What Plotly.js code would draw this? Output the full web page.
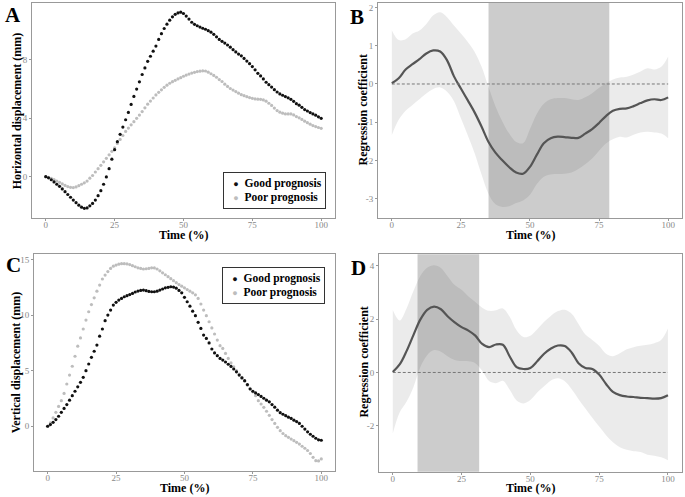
<!DOCTYPE html>
<html>
<head>
<meta charset="utf-8">
<script src="https://cdn.plot.ly/plotly-3.0.1.min.js"></script>
<style>
  html, body { margin: 0; padding: 0; background: #fff; }
  #chart { width: 685px; height: 497px; }
</style>
</head>
<body>
<div id="chart"></div>
<script>
// Displacement curves (A, C) and regression coefficients with 95% band (B, D)

// time axis, % of the movement
const timePct = [0,1,2,3,4,5,6,7,8,9,10,11,12,13,14,15,16,17,18,19,20,21,22,23,24,25,26,27,28,29,30,
  31,32,33,34,35,36,37,38,39,40,41,42,43,44,45,46,47,48,49,50,51,52,53,54,55,56,57,58,59,60,
  61,62,63,64,65,66,67,68,69,70,71,72,73,74,75,76,77,78,79,80,81,82,83,84,85,86,87,88,89,90,
  91,92,93,94,95,96,97,98,99,100];

// A: horizontal displacement (mm)
const horizGood = [0,-0.08,-0.21,-0.36,-0.52,-0.66,-0.84,-1.03,-1.22,-1.41,-1.6,-1.78,-1.95,-2.09,-2.17,-2.14,-2.0,-1.83,-1.6,-1.3,
  -0.96,-0.52,-0.02,0.55,1.2,1.85,2.4,2.9,3.4,3.9,4.4,4.95,5.5,6.0,6.5,7.0,7.45,7.9,8.25,8.6,
  8.95,9.4,9.8,10.15,10.45,10.72,10.95,11.12,11.22,11.27,11.18,11.0,10.8,10.58,10.44,10.34,10.25,10.17,10.1,10.0,
  9.9,9.75,9.58,9.4,9.27,9.15,9.02,8.87,8.7,8.55,8.4,8.28,8.1,7.92,7.74,7.54,7.32,7.08,6.9,6.7,
  6.47,6.3,6.14,5.96,5.8,5.67,5.58,5.49,5.4,5.3,5.16,5.0,4.9,4.75,4.6,4.5,4.39,4.3,4.21,4.1,4.0];
const horizPoor = [0,-0.05,-0.12,-0.2,-0.3,-0.39,-0.5,-0.6,-0.68,-0.73,-0.75,-0.7,-0.62,-0.52,-0.42,-0.3,-0.1,0.08,0.32,0.55,
  0.78,1.02,1.26,1.5,1.74,1.98,2.28,2.55,2.82,3.1,3.33,3.55,3.77,4.0,4.22,4.46,4.72,4.97,5.18,5.39,
  5.6,5.78,5.95,6.12,6.27,6.4,6.51,6.6,6.7,6.78,6.88,6.96,7.03,7.1,7.15,7.2,7.23,7.25,7.24,7.16,
  7.05,6.94,6.81,6.65,6.52,6.34,6.18,6.04,5.93,5.83,5.72,5.62,5.55,5.48,5.42,5.37,5.33,5.31,5.3,5.26,
  5.17,5.03,4.88,4.7,4.53,4.42,4.35,4.3,4.3,4.3,4.23,4.12,4.03,3.92,3.8,3.7,3.6,3.5,3.43,3.37,3.31];

// C: vertical displacement (mm)
const vertGood = [0,0.15,0.35,0.6,0.9,1.25,1.6,1.95,2.35,2.75,3.15,3.55,3.95,4.4,5.0,5.6,6.2,6.75,7.3,8.1,
  8.75,9.5,10.0,10.45,10.9,11.15,11.35,11.5,11.65,11.75,11.85,11.95,12.08,12.16,12.22,12.25,12.2,12.13,12.1,12.1,
  12.15,12.25,12.35,12.45,12.5,12.55,12.52,12.42,12.22,12.0,11.6,11.2,10.8,10.35,9.95,9.35,8.8,8.2,7.9,7.5,
  6.95,6.6,6.35,6.1,5.95,5.78,5.58,5.38,5.15,4.9,4.6,4.35,4.1,3.75,3.35,3.15,3.0,2.85,2.68,2.52,
  2.35,2.2,1.95,1.72,1.45,1.22,1.08,0.95,0.82,0.7,0.55,0.42,0.25,0.0,-0.25,-0.5,-0.72,-0.9,-1.08,-1.22,-1.26];
const vertPoor = [0,0.3,0.75,1.25,1.78,2.3,2.95,3.8,4.6,5.4,6.3,7.2,7.95,8.75,9.55,10.3,10.95,11.55,12.15,12.7,
  13.25,13.6,13.92,14.2,14.4,14.5,14.58,14.63,14.63,14.6,14.55,14.45,14.35,14.25,14.2,14.15,14.17,14.2,14.25,14.24,
  14.15,13.98,13.8,13.63,13.46,13.28,13.1,12.92,12.75,12.6,12.45,12.3,12.15,12.0,11.82,11.5,11.0,10.45,9.95,9.4,
  8.85,8.3,7.75,7.25,7.0,6.55,6.1,5.7,5.35,5.0,4.7,4.4,4.05,3.7,3.4,3.1,2.75,2.3,2.0,1.7,
  1.35,0.98,0.6,0.25,-0.1,-0.4,-0.65,-0.85,-1.0,-1.15,-1.3,-1.45,-1.6,-1.8,-1.98,-2.18,-2.45,-2.8,-3.1,-3.12,-2.94];

// B, D: regression coefficient with lower / upper bound
const coefTime = [0,2.5,5,7.5,10,12.5,15,17.5,20,22.5,25,27.5,30,32.5,35,37.5,40,42.5,45,47.5,50,
  52.5,55,57.5,60,62.5,65,67.5,70,72.5,75,77.5,80,82.5,85,87.5,90,92.5,95,97.5,100];

const coefB = [0.02,0.15,0.38,0.52,0.65,0.8,0.88,0.85,0.62,0.2,-0.12,-0.43,-0.75,-1.12,-1.52,-1.8,-2.0,-2.18,-2.32,-2.35,-2.17,
  -1.85,-1.55,-1.42,-1.38,-1.39,-1.41,-1.41,-1.3,-1.18,-1.02,-0.84,-0.7,-0.65,-0.64,-0.58,-0.5,-0.43,-0.4,-0.42,-0.35];
const upperB = [1.41,1.15,1.17,1.32,1.4,1.57,1.8,1.88,1.75,1.53,1.32,1.1,0.84,0.45,-0.08,-0.58,-0.98,-1.3,-1.52,-1.55,-1.18,
  -0.78,-0.52,-0.4,-0.37,-0.37,-0.4,-0.42,-0.35,-0.24,-0.1,0.02,0.12,0.17,0.19,0.25,0.33,0.41,0.38,0.45,0.72];
const lowerB = [-1.34,-0.94,-0.7,-0.55,-0.4,-0.25,-0.13,-0.09,-0.2,-0.45,-0.9,-1.35,-1.82,-2.38,-2.88,-3.15,-3.22,-3.2,-3.12,-3.05,-2.9,
  -2.62,-2.43,-2.37,-2.36,-2.35,-2.32,-2.23,-2.1,-1.95,-1.75,-1.56,-1.45,-1.38,-1.4,-1.33,-1.27,-1.25,-1.27,-1.3,-1.42];
const sigB = [35, 78.7];

const coefD = [0.02,0.3,0.8,1.4,1.98,2.35,2.47,2.37,2.1,1.88,1.7,1.57,1.38,1.07,0.95,1.05,1.04,0.6,0.2,0.13,0.17,
  0.42,0.7,0.9,1.01,0.99,0.75,0.35,0.17,0.13,-0.08,-0.43,-0.73,-0.85,-0.9,-0.92,-0.95,-0.96,-0.98,-0.96,-0.85];
const upperD = [2.34,1.95,2.4,3.05,3.62,3.93,4.02,3.92,3.6,3.28,3.1,2.85,2.64,2.43,2.31,2.33,2.4,2.09,1.58,1.33,1.38,
  1.62,1.9,2.13,2.3,2.35,2.2,1.82,1.42,1.22,1.0,0.7,0.61,0.72,0.87,0.95,1.0,1.04,1.1,1.22,1.65];
const lowerD = [-2.29,-1.5,-1.1,-0.55,0.2,0.65,0.84,0.78,0.6,0.47,0.43,0.42,0.35,0.06,-0.32,-0.4,-0.31,-0.65,-1.05,-1.16,-1.03,
  -0.75,-0.52,-0.3,-0.22,-0.33,-0.63,-1.0,-1.35,-1.7,-2.03,-2.35,-2.62,-2.8,-2.9,-2.95,-2.98,-3.08,-3.12,-3.18,-3.29];
const sigD = [9, 31.4];

const timeTicks = [0, 25, 50, 75, 100];
const ticksA = [0, 4, 8];
const ticksB = [-3, -2, -1, 0, 1, 2];
const ticksC = [0, 5, 10, 15];
const ticksD = [-2, 0, 2, 4];

const SERIF = 'Liberation Serif, Times New Roman, serif';
const GOOD_COLOR = '#111111';
const POOR_COLOR = '#bdbdbd';
const TITLE_FONT = { family: SERIF, size: 12, color: '#000', weight: 'bold' };

function dots(x, y, color, xa, ya) {
  return {
    x: x, y: y, xaxis: xa, yaxis: ya, type: 'scatter', mode: 'markers',
    marker: { size: 3.2, color: color }, showlegend: false, hoverinfo: 'skip'
  };
}

function bandTraces(x, lo, hi, mid, xa, ya) {
  return [
    { x: x, y: lo, xaxis: xa, yaxis: ya, type: 'scatter', mode: 'lines',
      line: { width: 0, shape: 'spline' }, showlegend: false, hoverinfo: 'skip' },
    { x: x, y: hi, xaxis: xa, yaxis: ya, type: 'scatter', mode: 'lines', fill: 'tonexty',
      fillcolor: 'rgba(0,0,0,0.08)', line: { width: 0, shape: 'spline' }, showlegend: false, hoverinfo: 'skip' },
    { x: x, y: mid, xaxis: xa, yaxis: ya, type: 'scatter', mode: 'lines',
      line: { color: '#555555', width: 2.2, shape: 'spline' }, showlegend: false, hoverinfo: 'skip' }
  ];
}

function xAxis(domain, anchor) {
  return {
    domain: domain, anchor: anchor, range: [-5, 105], tickvals: timeTicks,
    showline: true, mirror: true, linecolor: '#999', linewidth: 1,
    ticks: 'outside', ticklen: 2, tickcolor: '#999', ticklabelstandoff: -4,
    tickfont: { family: SERIF, size: 9, color: '#888' },
    showgrid: false, zeroline: false
  };
}

function yAxis(domain, anchor, range, ticks) {
  return {
    domain: domain, anchor: anchor, range: range, tickvals: ticks,
    ticktext: ticks.map(String),
    showline: true, mirror: true, linecolor: '#999', linewidth: 1,
    ticks: 'outside', ticklen: 2, tickcolor: '#999',
    tickfont: { family: SERIF, size: 9, color: '#888' },
    showgrid: false, zeroline: false
  };
}

const traces = [].concat(
  bandTraces(coefTime, lowerB, upperB, coefB, 'x2', 'y2'),
  bandTraces(coefTime, lowerD, upperD, coefD, 'x4', 'y4'),
  [
    dots(timePct, horizPoor, POOR_COLOR, 'x', 'y'),
    dots(timePct, horizGood, GOOD_COLOR, 'x', 'y'),
    dots(timePct, vertPoor, POOR_COLOR, 'x3', 'y3'),
    dots(timePct, vertGood, GOOD_COLOR, 'x3', 'y3')
  ]
);

const tStart = timePct[0];
const tEnd = timePct[timePct.length - 1];

function sigRect(xref, yref, span) {
  return { type: 'rect', layer: 'below', xref: xref, yref: yref + ' domain',
    x0: span[0], x1: span[1], y0: 0, y1: 1, fillcolor: '#cccccc', line: { width: 0 } };
}
function zeroLine(xref, yref) {
  return { type: 'line', layer: 'above', xref: xref, yref: yref,
    x0: tStart, x1: tEnd, y0: 0, y1: 0, line: { color: '#777', width: 1, dash: '3px,2px' } };
}

const legendText =
  '  <span style="color:' + GOOD_COLOR + ';font-size:9px">●</span>  Good prognosis<br>' +
  '  <span style="color:' + POOR_COLOR + ';font-size:9px">●</span>  Poor prognosis';

function legendBox(x, y) {
  return { xref: 'paper', yref: 'paper', x: x, y: y, xanchor: 'right', yanchor: 'top',
    showarrow: false, align: 'left', text: legendText,
    font: { family: SERIF, size: 11.5, color: '#000', weight: 'bold' },
    bgcolor: '#fff', bordercolor: '#333', borderwidth: 1, borderpad: 3.5 };
}
function yTitle(text, x, y) {
  return { xref: 'paper', yref: 'paper', x: x, y: y, xanchor: 'center', yanchor: 'middle',
    textangle: -90, showarrow: false, text: text, font: TITLE_FONT };
}
function xTitle(x, y) {
  return { xref: 'paper', yref: 'paper', x: x, y: y, xanchor: 'center', yanchor: 'middle',
    showarrow: false, text: 'Time (%)', font: TITLE_FONT };
}
function panelTag(text, x, y) {
  return { xref: 'paper', yref: 'paper', x: x, y: y, xanchor: 'center', yanchor: 'middle',
    showarrow: false,
    text: text, font: { family: SERIF, size: 21, color: '#000', weight: 'bold' } };
}

const layout = {
  width: 685, height: 497,
  margin: { l: 0, r: 0, t: 0, b: 0 },
  paper_bgcolor: '#fff', plot_bgcolor: '#fff',
  showlegend: false,
  xaxis: xAxis([0.0467, 0.489], 'y'),
  yaxis: yAxis([0.5614, 0.994], 'x', [-2.83, 11.9], ticksA),
  xaxis2: xAxis([0.5518, 0.9956], 'y2'),
  yaxis2: yAxis([0.5614, 0.9946], 'x2', [-3.51, 2.13], ticksB),
  xaxis3: xAxis([0.0496, 0.489], 'y3'),
  yaxis3: yAxis([0.0529, 0.489], 'x3', [-4.0, 15.5], ticksC),
  xaxis4: xAxis([0.5533, 0.9952], 'y4'),
  yaxis4: yAxis([0.0509, 0.4883], 'x4', [-3.72, 4.43], ticksD),
  shapes: [
    sigRect('x2', 'y2', sigB), zeroLine('x2', 'y2'),
    sigRect('x4', 'y4', sigD), zeroLine('x4', 'y4')
  ],
  annotations: [
    legendBox(0.4755, 1 - 172 / 497),
    legendBox(0.4745, 1 - 267 / 497),
    xTitle(0.268, 1 - 235 / 497),
    xTitle(0.774, 1 - 235 / 497),
    xTitle(0.269, 1 - 488 / 497),
    xTitle(0.774, 1 - 488 / 497),
    yTitle('Horizontal displacement (mm)', 0.026, 0.7777),
    yTitle('Regression coefficient', 0.53, 0.7777),
    yTitle('Vertical displacement (mm)', 0.023, 0.2706),
    yTitle('Regression coefficient', 0.53, 0.2706),
    panelTag('A', 0.019, 0.97),
    panelTag('B', 0.521, 0.966),
    panelTag('C', 0.019, 0.467),
    panelTag('D', 0.524, 0.461)
  ]
};

Plotly.newPlot('chart', traces, layout, { displayModeBar: false, staticPlot: true });
</script>
</body>
</html>
